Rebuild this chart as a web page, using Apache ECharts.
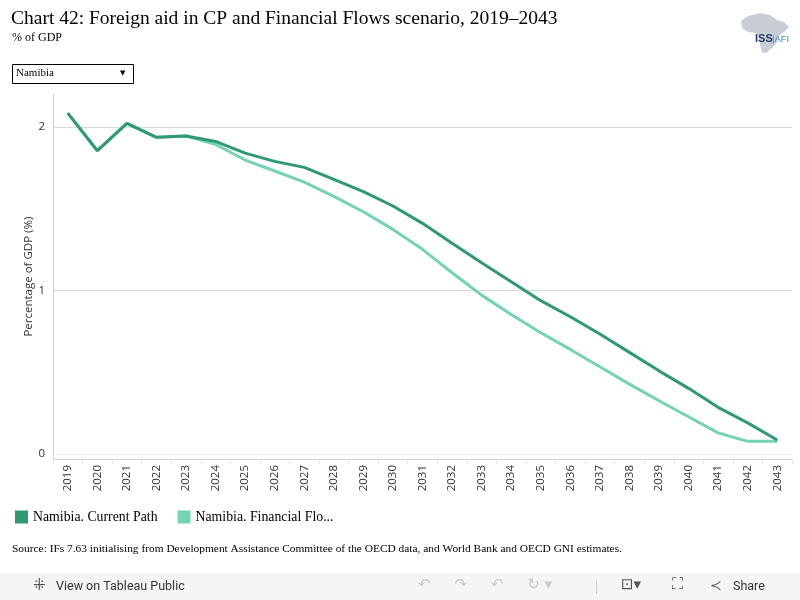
<!DOCTYPE html>
<html>
<head>
<meta charset="utf-8">
<script src="https://cdn.jsdelivr.net/npm/echarts@6/dist/echarts.min.js"></script>
<style>
  html, body { margin: 0; padding: 0; background: #fff; }
  #chart { width: 800px; height: 600px; }
</style>
</head>
<body>
<div id="chart"></div>
<script>
// years on the category axis
const YEARS = ['2019', '2020', '2021', '2022', '2023', '2024', '2025', '2026', '2027', '2028', '2029', '2030', '2031',
  '2032', '2033', '2034', '2035', '2036', '2037', '2038', '2039', '2040', '2041', '2042', '2043'];
// foreign aid, % of GDP
const CURRENT_PATH = [2.085, 1.855, 2.022, 1.937, 1.945, 1.912, 1.840, 1.790, 1.753, 1.680, 1.605, 1.517, 1.411,
  1.289, 1.170, 1.054, 0.938, 0.840, 0.734, 0.622, 0.509, 0.402, 0.286, 0.191, 0.086];
const FINANCIAL_FLOWS = [2.085, 1.855, 2.022, 1.937, 1.945, 1.894, 1.798, 1.731, 1.663, 1.576, 1.482, 1.374, 1.252,
  1.109, 0.972, 0.854, 0.742, 0.640, 0.534, 0.428, 0.326, 0.228, 0.130, 0.078, 0.078];
const Y_LABELS = [0, 1, 2];
const GRIDLINES = [1, 2];

const DARK = '#2f9a72';
const LIGHT = '#74d3b1';
const SERIF = '"Liberation Serif", "Times New Roman", serif';
const SANS = '"Open Sans", "DejaVu Sans", sans-serif';

const chart = echarts.init(document.getElementById('chart'), null, { renderer: 'canvas' });

// rough Africa outline for the logo
const AFRICA = [[748, 16], [760, 13], [770, 15], [777, 20], [784, 22], [789, 27], [785, 31], [780, 35], [777, 42],
  [772, 48], [766, 53], [762, 52], [760, 45], [760, 37], [756, 33], [748, 32], [742, 28], [741, 21]];

chart.setOption({
  backgroundColor: '#fff',
  animation: false,
  title: [
    {
      text: 'Chart 42: Foreign aid in CP and Financial Flows scenario, 2019–2043',
      left: 11, top: 9, padding: 0,
      textStyle: { fontFamily: SERIF, fontSize: 19.5, fontWeight: 'normal', color: '#000' },
    },
    {
      text: '% of GDP',
      left: 12, top: 32, padding: 0,
      textStyle: { fontFamily: SERIF, fontSize: 12, fontWeight: 'normal', color: '#000' },
    },
    {
      text: 'Source: IFs 7.63 initialising from Development Assistance Committee of the OECD data, and World Bank and OECD GNI estimates.',
      left: 12, top: 544, padding: 0,
      textStyle: { fontFamily: SERIF, fontSize: 11.4, fontWeight: 'normal', color: '#000' },
    },
  ],
  legend: {
    left: 15, top: 510, padding: 0,
    icon: 'rect',
    itemWidth: 13, itemHeight: 13,
    itemGap: 20,
    selectedMode: false,
    textStyle: { fontFamily: SERIF, fontSize: 13.8, color: '#000', padding: [10, 0, 0, 0] },
    formatter: function (n) { return n.length > 22 ? n.slice(0, 22) + '...' : n; },
    data: ['Namibia. Current Path', 'Namibia. Financial Flows'],
  },
  grid: { left: 53, right: 8, top: 94.3, bottom: 141 },
  xAxis: {
    type: 'category',
    data: YEARS,
    boundaryGap: true,
    axisLine: { onZero: false, lineStyle: { color: '#d0d0d0', width: 1 } },
    axisTick: { show: true, length: 5, lineStyle: { color: '#e6e6e6' } },
    axisLabel: { rotate: 90, interval: 0, margin: 6, fontFamily: SANS, fontSize: 11.5, color: '#333' },
    splitLine: { show: false },
  },
  yAxis: {
    type: 'value',
    min: -0.03,
    max: 2.2,
    name: 'Percentage of GDP (%)',
    nameLocation: 'middle',
    nameGap: 18,
    nameMoveOverlap: false,
    nameTextStyle: { fontFamily: SANS, fontSize: 11.5, color: '#333' },
    axisLine: { show: true, lineStyle: { color: '#d0d0d0' } },
    axisTick: { show: false },
    axisLabel: { customValues: Y_LABELS, margin: 8, fontFamily: SANS, fontSize: 11.5, color: '#333' },
    splitLine: { show: false },
  },
  series: [
    {
      name: 'Namibia. Financial Flows',
      type: 'line',
      data: FINANCIAL_FLOWS,
      symbol: 'none',
      lineStyle: { color: LIGHT, width: 3 },
      itemStyle: { color: LIGHT },
      z: 3,
      markLine: {
        silent: true,
        symbol: 'none',
        label: { show: false },
        data: GRIDLINES.map(function (v) {
          return { yAxis: v, lineStyle: { color: '#d9d9d9', width: 1, type: 'solid' } };
        }).concat([{ yAxis: 0, lineStyle: { color: '#c8c8c8', width: 1, type: [1, 3] } }]),
        z: 1,
      },
    },
    {
      name: 'Namibia. Current Path',
      type: 'line',
      data: CURRENT_PATH,
      symbol: 'none',
      lineStyle: { color: DARK, width: 3 },
      itemStyle: { color: DARK },
      z: 4,
    },
  ],
  graphic: [
    // country selector
    {
      type: 'rect', shape: { x: 12.5, y: 64.5, width: 121, height: 19 },
      style: { fill: '#fff', stroke: '#000', lineWidth: 1 },
    },
    {
      type: 'text', left: 16, top: 68,
      style: { text: 'Namibia', font: '11px ' + SERIF, fill: '#000' },
    },
    {
      type: 'text', left: 120, top: 70,
      style: { text: '▼', font: '7px "DejaVu Sans"', fill: '#000' },
    },
    // logo
    {
      type: 'polygon', shape: { points: AFRICA },
      style: { fill: '#c9ced6' },
    },
    {
      type: 'text', left: 755, top: 33,
      style: { text: 'ISS', font: 'bold 11px "Liberation Sans Narrow", "Liberation Sans", sans-serif', fill: '#24406b' },
    },
    {
      type: 'text', left: 772, top: 34,
      style: { text: '|AFI', font: '9.5px "Liberation Sans", sans-serif', fill: '#3f8fd0' },
    },
    // tableau toolbar
    {
      type: 'rect', shape: { x: 0, y: 573, width: 800, height: 27 },
      style: { fill: '#f5f5f5' },
    },
    {
      type: 'text', left: 33, top: 579,
      style: { text: '⁜', font: '15px "DejaVu Sans"', fill: '#555' },
    },
    {
      type: 'text', left: 56, top: 580,
      style: { text: 'View on Tableau Public', font: '12.5px Roboto, sans-serif', fill: '#333' },
    },
    {
      type: 'text', left: 418, top: 578,
      style: { text: '↶     ↷     ↶     ↻ ▾', font: '15px "DejaVu Sans"', fill: '#c8c8c8' },
    },
    {
      type: 'rect', shape: { x: 596, y: 580, width: 1, height: 14 },
      style: { fill: '#cfcfcf' },
    },
    {
      type: 'text', left: 621, top: 578,
      style: { text: '⊡▾', font: '15px "DejaVu Sans"', fill: '#555' },
    },
    {
      type: 'text', left: 672, top: 577,
      style: { text: '⛶', font: '16px "DejaVu Sans"', fill: '#555' },
    },
    {
      type: 'text', left: 710, top: 579,
      style: { text: '≺', font: '14px "DejaVu Sans"', fill: '#555' },
    },
    {
      type: 'text', left: 733, top: 580,
      style: { text: 'Share', font: '12.5px Roboto, sans-serif', fill: '#333' },
    },
  ],
});

window.addEventListener('resize', function () {
  chart.resize();
});
</script>
</body>
</html>
